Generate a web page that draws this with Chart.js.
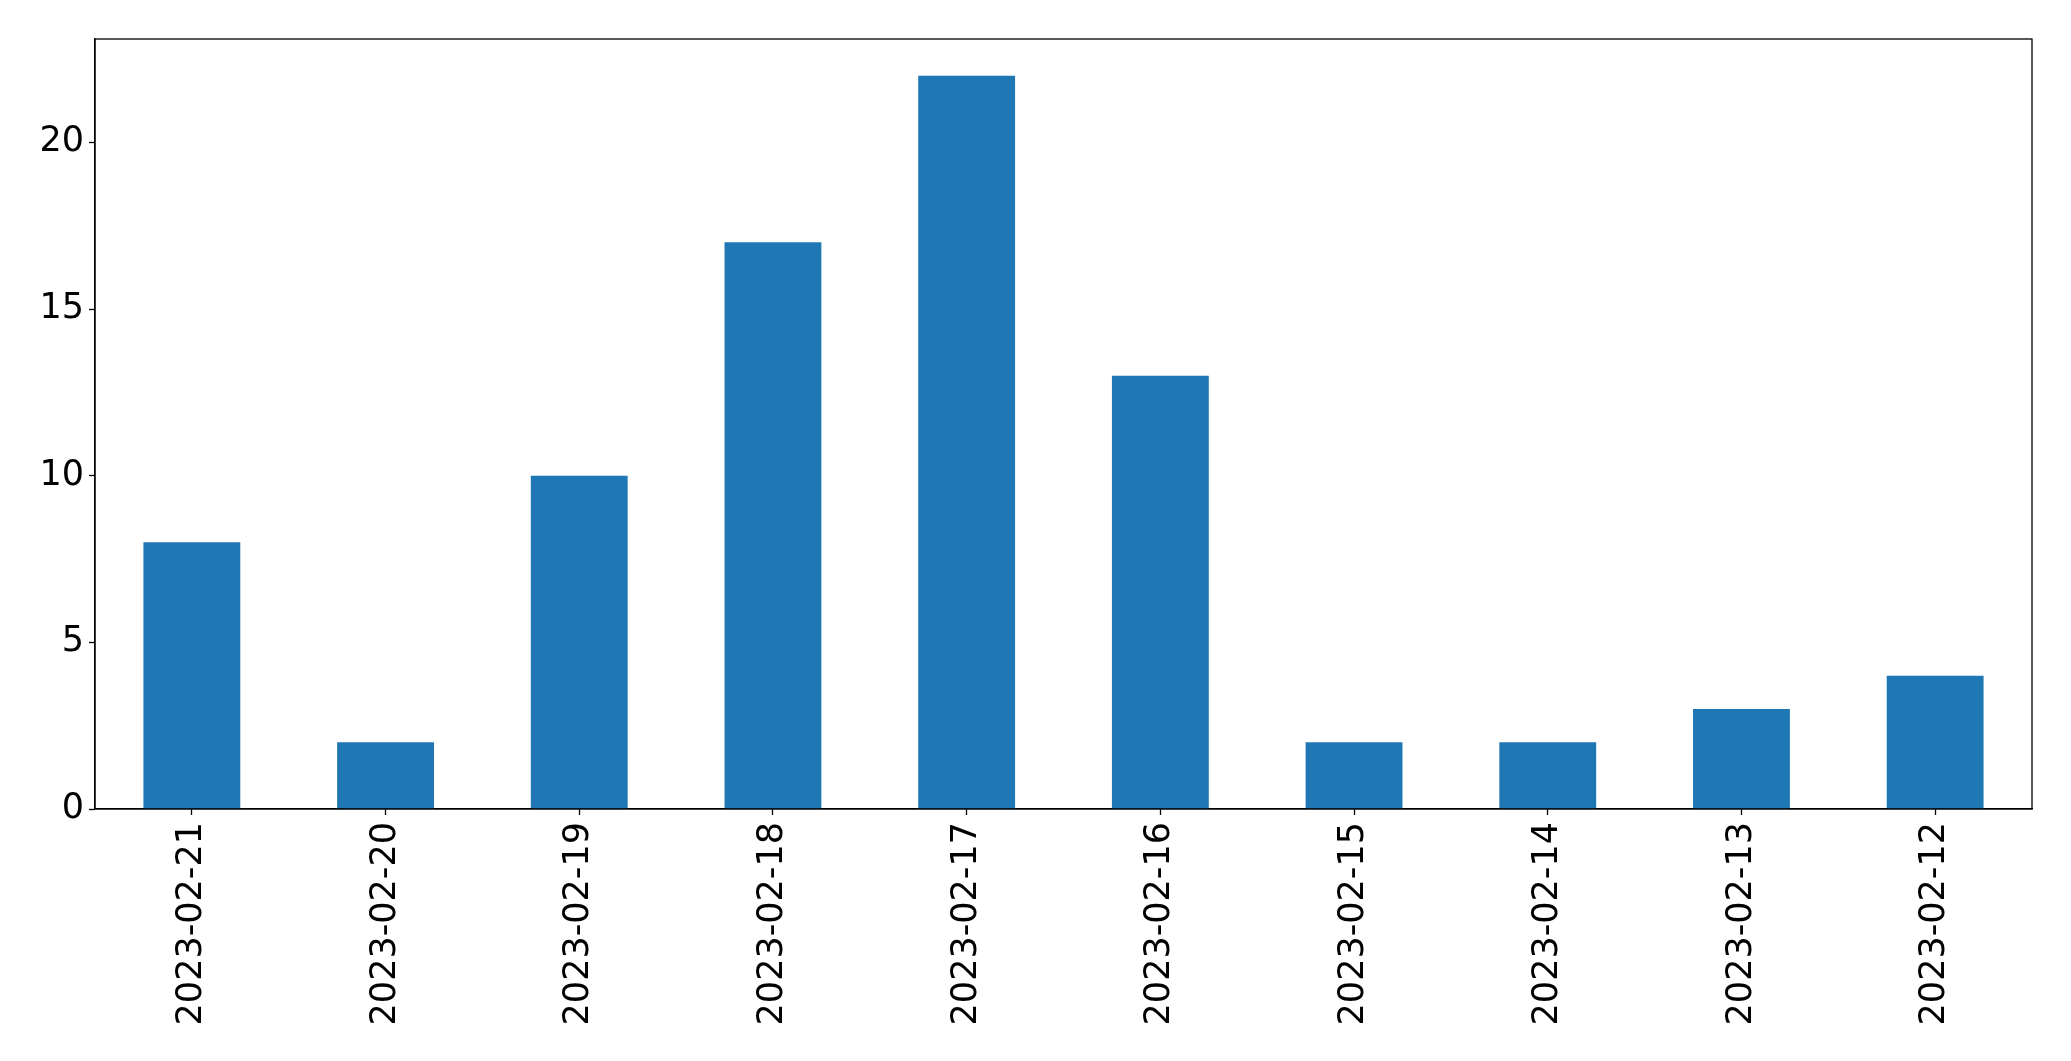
<!DOCTYPE html>
<html>
<head>
<meta charset="utf-8">
<script src="https://cdn.jsdelivr.net/npm/chart.js@4"></script>
<style>
    html, body { margin: 0; padding: 0; background: #fff; }
    #wrap { width: 2071px; height: 1061px; }
</style>
</head>
<body>
<div id="wrap"><canvas id="myBarChart" width="2071" height="1061"></canvas></div>
<script>
// Data
const dates = ['2023-02-21', '2023-02-20', '2023-02-19', '2023-02-18', '2023-02-17',
    '2023-02-16', '2023-02-15', '2023-02-14', '2023-02-13', '2023-02-12'];
const counts = [8, 2, 10, 17, 22, 13, 2, 2, 3, 4];
const yTicks = [0, 5, 10, 15, 20];
const yMax = 23.1;

// frame around the plot area
const frame = {
    id: 'frame',
    afterDraw(chart) {
        const a = chart.chartArea;
        const c = chart.ctx;
        c.save();
        c.strokeStyle = '#000';
        c.lineWidth = 1.3;
        c.strokeRect(a.left, a.top, a.right - a.left, a.bottom - a.top);
        c.restore();
    }
};

const config = {
    type: 'bar',
    data: {
        labels: dates,
        datasets: [{
            data: counts,
            backgroundColor: '#1f77b4',
            borderWidth: 0,
            barPercentage: 0.5,
            categoryPercentage: 1.0
        }]
    },
    options: {
        responsive: false,
        animation: false,
        layout: { padding: { top: 39, right: 39, left: 0, bottom: 0 } },
        plugins: {
            legend: { display: false },
            tooltip: { enabled: false }
        },
        scales: {
            x: {
                afterFit: s => { s.height = 252; },
                grid: { offset: false, drawOnChartArea: false, tickLength: 6, tickColor: '#000', tickWidth: 1.3 },
                border: { color: '#000', width: 1.3 },
                ticks: {
                    color: '#000',
                    font: { family: 'DejaVu Sans', size: 35 },
                    maxRotation: 90,
                    minRotation: 90,
                    padding: 7
                }
            },
            y: {
                min: 0,
                max: yMax,
                afterFit: s => { s.width = 95; },
                afterBuildTicks: s => { s.ticks = yTicks.map(v => ({ value: v })); },
                grid: { drawOnChartArea: false, tickLength: 6, tickColor: '#000', tickWidth: 1.3 },
                border: { color: '#000', width: 1.3 },
                ticks: {
                    color: '#000',
                    font: { family: 'DejaVu Sans', size: 35 },
                    padding: 5
                }
            }
        }
    },
    plugins: [frame]
};

new Chart(document.getElementById('myBarChart').getContext('2d'), config);
</script>
</body>
</html>
